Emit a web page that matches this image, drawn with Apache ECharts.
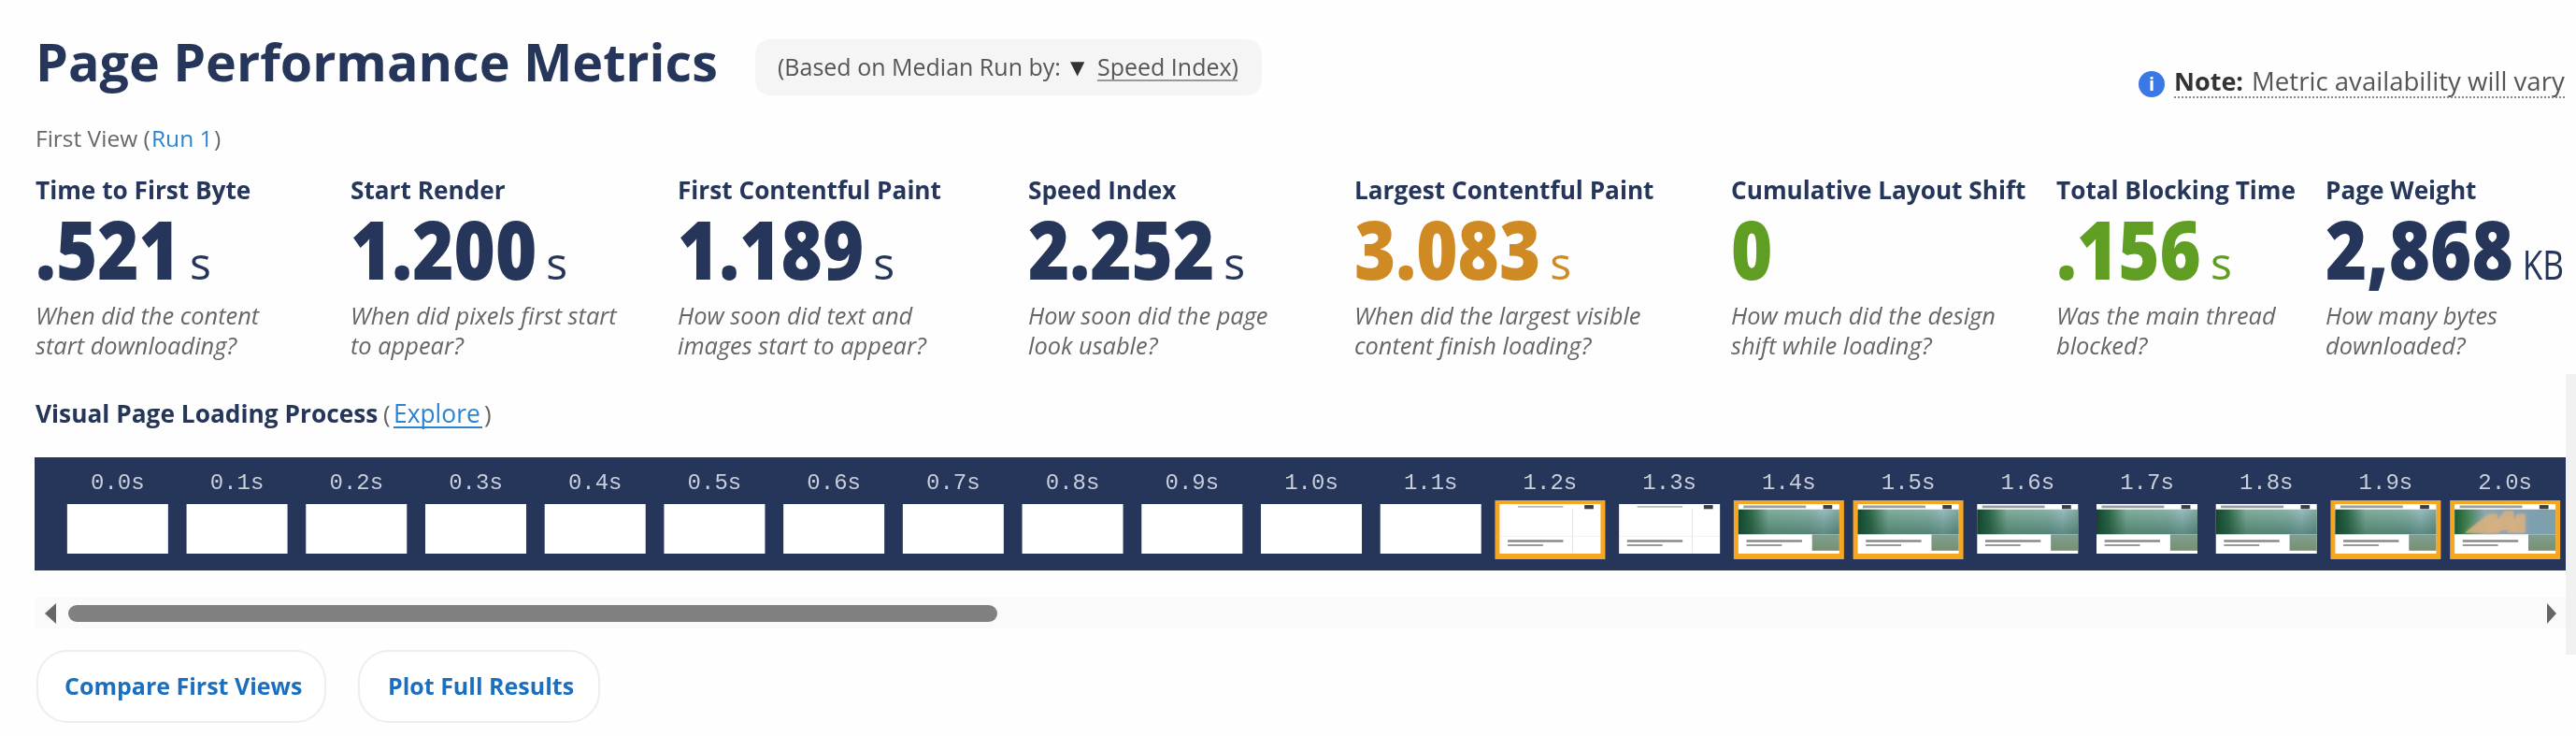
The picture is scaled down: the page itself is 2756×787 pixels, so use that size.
<!DOCTYPE html>
<html>
<head>
<meta charset="utf-8">
<title>Page Performance Metrics</title>
<script src="https://cdn.jsdelivr.net/npm/echarts@6/dist/echarts.min.js"></script>
<style>
html,body{margin:0;padding:0;background:#fff}
#main{width:2756px;height:787px}
</style>
</head>
<body>
<div id="main"></div>
<script>
// values
var metricNames = ['Time to First Byte','Start Render','First Contentful Paint','Speed Index','Largest Contentful Paint','Cumulative Layout Shift','Total Blocking Time','Page Weight'];
var metricValues = ['.521','1.200','1.189','2.252','3.083','0','.156','2,868'];
var metricUnits = ['s','s','s','s','s','','s','KB'];
var metricGrades = ['plain','plain','plain','plain','slow','good','good','plain'];
var metricLine1 = ['When did the content','When did pixels first start','How soon did text and','How soon did the page','When did the largest visible','How much did the design','Was the main thread','How many bytes'];
var metricLine2 = ['start downloading?','to appear?','images start to appear?','look usable?','content finish loading?','shift while loading?','blocked?','downloaded?'];
var frameTimes = ['0.0s','0.1s','0.2s','0.3s','0.4s','0.5s','0.6s','0.7s','0.8s','0.9s','1.0s','1.1s','1.2s','1.3s','1.4s','1.5s','1.6s','1.7s','1.8s','1.9s','2.0s'];
var frameKinds = ['blank','blank','blank','blank','blank','blank','blank','blank','blank','blank','blank','blank','outline','outline','photo','photo','photo','photo','photo','photo','final'];
var frameChanged = [0,0,0,0,0,0,0,0,0,0,0,0,1,0,1,1,0,0,0,1,1];

// layout
var columnX = [38,375,725,1100,1449,1852,2200,2488];
var NAVY = '#26355a', GREY = '#666', BLUE = '#2a84d2', ORANGE = '#f5a623';
var gradeColor = {plain:NAVY, slow:'#d08a24', good:'#5f9e22'};
var SANS = '"Open Sans"';
var VALUE_SIZE = 87, VALUE_SQUEEZE = 0.87;

function txt(text,x,baseline,size,weight,color,opt){
	opt = opt || {};
	return {
		type:'text', x:x, y:baseline-size*0.29, scaleX:opt.sx||1, originX:0,
		style:{
			text:text, fill:color, verticalAlign:'middle', align:opt.align||'left',
			font:(opt.italic?'italic ':'')+weight+' '+size+'px '+(opt.family||SANS)
		}
	};
}
function box(x,y,w,h,fill,r,stroke){
	return {type:'rect', shape:{x:x,y:y,width:w,height:h,r:r||0},
		style:{fill:fill,stroke:stroke||null,lineWidth:stroke?2:0}};
}
function rule(x1,x2,y,color,dash,w){
	return {type:'line', shape:{x1:x1,y1:y,x2:x2,y2:y},
		style:{stroke:color,lineWidth:w||2,lineDash:dash||null}};
}
function valueWidth(s){
	var ctx = document.createElement('canvas').getContext('2d');
	ctx.font = '800 '+VALUE_SIZE+'px '+SANS;
	return ctx.measureText(s).width*VALUE_SQUEEZE;
}

var parts = [];
parts.push(box(2745,400,11,300,'#f1f1f1'));
parts.push(txt('Page Performance Metrics',38,87,55.6,700,NAVY));
parts.push(box(808,42,542,60,'#f5f5f5',16));
parts.push(txt('(Based on Median Run by:',832,81,25,400,'#555'));
parts.push(txt('▼',1145,80,20,400,'#333',{family:'"DejaVu Sans"'}));
parts.push(txt('Speed Index)',1174,81,25,400,'#555'));
parts.push(rule(1174,1324,86,'#999'));
parts.push({type:'circle',shape:{cx:2302,cy:90,r:14},style:{fill:'#3b78e7'}});
parts.push(txt('i',2302,97,20,700,'#fff',{align:'center'}));
parts.push(txt('Note:',2326,97,27,700,'#333'));
parts.push(txt('Metric availability will vary',2409,97,27.6,400,'#555'));
parts.push(rule(2326,2745,104,'#888',[2,2]));
parts.push(txt('First View (',38,157,24.5,400,GREY));
parts.push(txt('Run 1',162,157,24.5,400,BLUE));
parts.push(txt(')',229,157,24.5,400,GREY));

metricNames.forEach(function(name,i){
	var x = columnX[i], c = gradeColor[metricGrades[i]];
	var isKb = metricUnits[i]=='KB';
	parts.push(txt(name,x,213,26.2,700,NAVY));
	parts.push(txt(metricValues[i],x,299,VALUE_SIZE,800,c,{sx:VALUE_SQUEEZE}));
	parts.push(txt(metricUnits[i],x+valueWidth(metricValues[i])+10,299,isKb?44:48,400,c,{sx:isKb?0.8:1}));
	parts.push(txt(metricLine1[i],x,347,25.4,400,GREY,{italic:true}));
	parts.push(txt(metricLine2[i],x,379,25.4,400,GREY,{italic:true}));
});

parts.push(txt('Visual Page Loading Process',38,452,26.3,700,NAVY));
parts.push(txt('(',410,452,26,400,GREY));
parts.push(txt('Explore',421,452,26.4,400,BLUE));
parts.push(rule(421,516,457,BLUE));
parts.push(txt(')',518,452,26,400,GREY));

// strip background goes under the grid
parts.push(box(37,489,2708,121,NAVY));

// scrollbar
parts.push(box(37,639,2708,33,'#fafafa'));
parts.push(box(73,647,994,18,'#808080',9));
parts.push({type:'polygon',shape:{points:[[60,645],[48,656],[60,667]]},style:{fill:'#666'}});
parts.push({type:'polygon',shape:{points:[[2725,645],[2735,656],[2725,667]]},style:{fill:'#666'}});

// buttons
parts.push(box(40,696,308,76,'#fff',32,'#eeeeee'));
parts.push(txt('Compare First Views',69,743,25,700,'#1a6fc0'));
parts.push(box(384,696,257,76,'#fff',32,'#eeeeee'));
parts.push(txt('Plot Full Results',415,743,25,700,'#1a6fc0'));

function hGrad(stops){
	return new echarts.graphic.LinearGradient(0,0,1,0,stops.map(function(s){return {offset:s[0],color:s[1]};}));
}
function vGrad(stops){
	return new echarts.graphic.LinearGradient(0,0,0,1,stops.map(function(s){return {offset:s[0],color:s[1]};}));
}

// one film frame, drawn at the band of its time on the category axis
function renderFrame(params,api){
	var i = api.value(0);
	var kind = frameKinds[i];
	var cx = api.coord([i,0])[0];
	var top = api.coord([i,1])[1], bottom = api.coord([i,0])[1];
	var w = 108, h = bottom-top, x = cx-w/2, y = top;
	var kids = [];
	function r(px,py,pw,ph,fill){
		kids.push({type:'rect',shape:{x:x+px*w,y:y+py*h,width:pw*w,height:ph*h},style:{fill:fill}});
	}
	if (api.value(1)) {
		kids.push({type:'rect',shape:{x:x-5,y:y-4,width:w+10,height:h+10},style:{fill:ORANGE}});
	}
	r(0,0,1,1,'#fff');
	if (kind=='outline') {
		r(0.18,0.04,0.45,0.03,'#b8b8b8');
		r(0.72,0.1,0.007,0.88,'#dddddd');
		r(0,0.64,1,0.012,'#e6e6e6');
	}
	if (kind=='photo' || kind=='final') {
		r(0.05,0.03,0.62,0.05,'#9aa0a0');
		var imgFill = kind=='final'
			? hGrad([[0,'#1d5a32'],[0.12,'#3f8050'],[0.3,'#8aa8b0'],[0.6,'#7f9fb5'],[1,'#7da0a8']])
			: hGrad([[0,'#12452b'],[0.13,'#2f6a4a'],[0.3,'#7fae9b'],[0.7,'#86b0a8'],[0.85,'#96bdc0'],[1,'#7ea7a0']]);
		kids.push({type:'rect',shape:{x:x,y:y+0.11*h,width:w,height:0.5*h},style:{fill:imgFill}});
		if (kind=='final') {
			// the hero photo is in by 2.0s: warm strokes over blue
			[[0.1,0.58,0.34,0.2,0.44,0.58],[0.3,0.58,0.5,0.14,0.6,0.5],[0.52,0.58,0.62,0.2,0.7,0.58]].forEach(function(p){
				kids.push({type:'polygon',shape:{points:[[x+p[0]*w,y+p[1]*h],[x+p[2]*w,y+p[3]*h],[x+(p[2]+0.08)*w,y+p[3]*h],[x+p[4]*w,y+p[5]*h]]},
					style:{fill:'#d8b080',opacity:0.7,shadowBlur:4,shadowColor:'#d8b080'}});
			});
		} else {
			kids.push({type:'rect',shape:{x:x,y:y+0.11*h,width:w,height:0.5*h},
				style:{fill:vGrad([[0,'rgba(30,70,60,0)'],[1,'rgba(25,75,55,0.45)']])}});
		}
		kids.push({type:'rect',shape:{x:x+0.73*w,y:y+0.61*h,width:0.27*w,height:0.33*h},
			style:{fill:vGrad([[0,'#7f9f92'],[1,'#76906f']])}});
	}
	if (kind!='blank') {
		r(0.84,0.02,0.09,0.08,'#3a3f44');
		r(0.08,0.72,0.55,0.05,'#8a8a8a');
		r(0.08,0.81,0.35,0.04,'#9a9a9a');
	}
	return {type:'group',children:kids};
}

var chart = echarts.init(document.getElementById('main'),null,{renderer:'canvas'});
chart.setOption({
	animation:false,
	backgroundColor:'#fefefe',
	graphic:{elements:parts},
	grid:{left:62,width:2682,top:539,height:53},
	xAxis:{
		type:'category',
		position:'top',
		data:frameTimes,
		axisLine:{show:false},
		axisTick:{show:false},
		axisLabel:{interval:0,margin:10,color:'#c9ced8',fontSize:24,fontFamily:'"Liberation Mono"'}
	},
	yAxis:{type:'value',min:0,max:1,show:false},
	series:[{
		type:'custom',
		renderItem:renderFrame,
		encode:{x:0,y:2},
		data:frameTimes.map(function(t,i){return [i,frameChanged[i],1];}),
		silent:true
	}]
});
</script>
</body>
</html>
